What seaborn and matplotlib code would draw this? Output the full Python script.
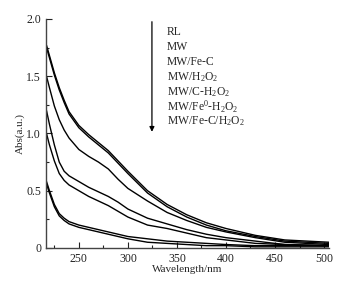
import matplotlib
matplotlib.use("Agg")
import matplotlib.pyplot as plt
import pandas as pd
import seaborn as sns
from matplotlib.ticker import MultipleLocator

wavelength = [217, 220, 225, 230, 235, 240, 250, 260, 270, 280, 290, 300,
              320, 340, 360, 380, 400, 430, 460, 505]

rl = [1.77, 1.68, 1.53, 1.40, 1.29, 1.19, 1.07, 0.99, 0.92, 0.85, 0.76, 0.67,
      0.50, 0.38, 0.29, 0.22, 0.17, 0.11, 0.07, 0.05]
mw = [1.75, 1.66, 1.51, 1.38, 1.27, 1.17, 1.05, 0.97, 0.90, 0.83, 0.74, 0.65,
      0.48, 0.36, 0.27, 0.20, 0.15, 0.10, 0.06, 0.04]
mw_fec = [1.50, 1.40, 1.24, 1.12, 1.03, 0.96, 0.86, 0.80, 0.75, 0.69, 0.60, 0.52,
          0.41, 0.31, 0.24, 0.18, 0.14, 0.09, 0.05, 0.03]
mw_h2o2 = [1.20, 1.08, 0.90, 0.75, 0.67, 0.63, 0.58, 0.53, 0.49, 0.45, 0.40, 0.34,
           0.26, 0.21, 0.16, 0.12, 0.09, 0.06, 0.03, 0.02]
mw_c_h2o2 = [1.00, 0.90, 0.76, 0.65, 0.59, 0.55, 0.50, 0.45, 0.41, 0.37, 0.32, 0.27,
             0.20, 0.17, 0.13, 0.09, 0.07, 0.04, 0.03, 0.02]
mw_fe0_h2o2 = [0.58, 0.50, 0.38, 0.30, 0.26, 0.23, 0.20, 0.18, 0.16, 0.14, 0.12, 0.10,
               0.08, 0.06, 0.05, 0.04, 0.03, 0.02, 0.02, 0.02]
mw_fec_h2o2 = [0.56, 0.48, 0.36, 0.28, 0.24, 0.21, 0.18, 0.16, 0.14, 0.12, 0.10, 0.08,
               0.05, 0.04, 0.03, 0.02, 0.02, 0.01, 0.01, 0.01]

labels = ["RL", "MW", "MW/Fe-C", r"MW/H$_2$O$_2$", r"MW/C-H$_2$O$_2$",
          r"MW/Fe$^0$-H$_2$O$_2$", r"MW/Fe-C/H$_2$O$_2$"]
series = [rl, mw, mw_fec, mw_h2o2, mw_c_h2o2, mw_fe0_h2o2, mw_fec_h2o2]


def main():
    sns.set_style("ticks")
    plt.rcParams["font.family"] = ["Liberation Serif", "DejaVu Serif"]
    plt.rcParams["mathtext.fontset"] = "custom"
    plt.rcParams["mathtext.rm"] = "Liberation Serif"
    plt.rcParams["mathtext.it"] = "Liberation Serif:italic"

    frames = [pd.DataFrame({"wl": wavelength, "abs": vals, "sample": lab})
              for lab, vals in zip(labels, series)]
    df = pd.concat(frames, ignore_index=True)

    fig = plt.figure(figsize=(3.47, 2.87), dpi=100)
    ax = fig.add_axes([0.1326, 0.136, 0.8154, 0.798])

    sns.lineplot(data=df, x="wl", y="abs", hue="sample",
                 palette=["black"] * len(labels), legend=False,
                 linewidth=1.0, ax=ax, sort=False)

    ax.set_xlim(216.5, 505)
    ax.set_ylim(0, 2.0)
    ax.set_xticks([250, 300, 350, 400, 450, 500])
    ax.set_yticks([0, 0.5, 1.0, 1.5, 2.0])
    ax.set_yticklabels(["0", "0.5", "1.0", "1.5", "2.0"])
    ax.xaxis.set_minor_locator(MultipleLocator(25))
    ax.yaxis.set_minor_locator(MultipleLocator(0.25))
    ax.tick_params(which="both", direction="in", labelsize=8.5, colors="#222222",
                   width=0.8)
    ax.tick_params(which="major", length=4)
    ax.tick_params(which="minor", length=2)
    for s in ["top", "right"]:
        ax.spines[s].set_visible(False)
    for s in ["left", "bottom"]:
        ax.spines[s].set_color("#444444")
        ax.spines[s].set_linewidth(1.0)

    ax.set_xlabel("Wavelength/nm", fontsize=8, labelpad=0)
    ax.set_ylabel("Abs(a.u.)", fontsize=8, labelpad=1)

    # arrow and sample list
    ax.annotate("", xy=(324.5, 0.99), xytext=(324.5, 2.0),
                arrowprops=dict(arrowstyle="-|>", color="black", lw=0.9,
                                mutation_scale=7))
    for i, lab in enumerate(labels):
        ax.text(340, 1.885 - i * 0.13, lab, fontsize=8.4, va="center",
                ha="left")

    fig.savefig("out.png", dpi=100)


if __name__ == "__main__":
    main()
